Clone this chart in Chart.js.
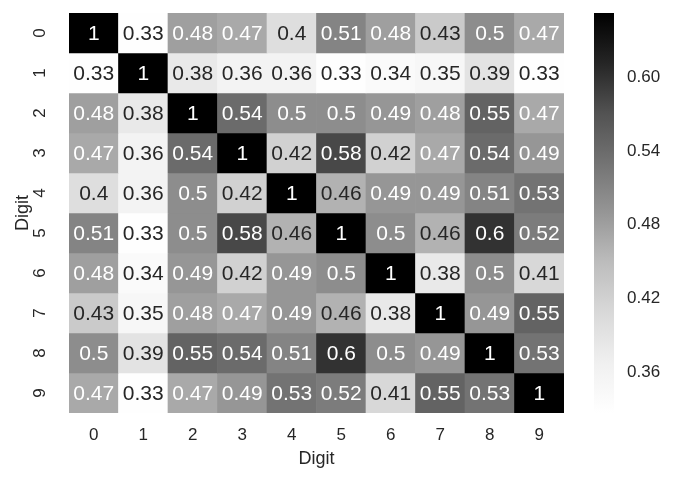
<!DOCTYPE html>
<html>
<head>
<meta charset="utf-8">
<script src="https://cdn.jsdelivr.net/npm/chart.js@4/dist/chart.umd.min.js"></script>
<style>
  body { margin: 0; background: #fff; }
  #wrap { position: relative; width: 677px; height: 483px; }
  #heat { position: absolute; left: 0; top: 0; }
  #cbar { position: absolute; left: 580px; top: 0; }
</style>
</head>
<body>
<div id="wrap">
  <canvas id="heat" width="677" height="483"></canvas>
  <canvas id="cbar" width="97" height="483"></canvas>
</div>
<script>
// Data
const digits = ["0","1","2","3","4","5","6","7","8","9"];

const row0 = [1, 0.33, 0.48, 0.47, 0.4, 0.51, 0.48, 0.43, 0.5, 0.47];
const row1 = [0.33, 1, 0.38, 0.36, 0.36, 0.33, 0.34, 0.35, 0.39, 0.33];
const row2 = [0.48, 0.38, 1, 0.54, 0.5, 0.5, 0.49, 0.48, 0.55, 0.47];
const row3 = [0.47, 0.36, 0.54, 1, 0.42, 0.58, 0.42, 0.47, 0.54, 0.49];
const row4 = [0.4, 0.36, 0.5, 0.42, 1, 0.46, 0.49, 0.49, 0.51, 0.53];
const row5 = [0.51, 0.33, 0.5, 0.58, 0.46, 1, 0.5, 0.46, 0.6, 0.52];
const row6 = [0.48, 0.34, 0.49, 0.42, 0.49, 0.5, 1, 0.38, 0.5, 0.41];
const row7 = [0.43, 0.35, 0.48, 0.47, 0.49, 0.46, 0.38, 1, 0.49, 0.55];
const row8 = [0.5, 0.39, 0.55, 0.54, 0.51, 0.6, 0.5, 0.49, 1, 0.53];
const row9 = [0.47, 0.33, 0.47, 0.49, 0.53, 0.52, 0.41, 0.55, 0.53, 1];
const rows = [row0, row1, row2, row3, row4, row5, row6, row7, row8, row9];

const cbarTicks = [0.36, 0.42, 0.48, 0.54, 0.60];
const vmin = 0.327;
const vmax = 0.652;

// "Greys" colour map stops (white -> black)
const greys = [255, 240, 217, 189, 150, 115, 82, 37, 0];

const FONT = "'Liberation Sans', Arial, sans-serif";
const INK  = "#262626";

function greyLevel(v) {
  var t = (v - vmin) / (vmax - vmin);
  t = Math.max(0, Math.min(1, t));
  var p = t * (greys.length - 1);
  var i = Math.min(Math.floor(p), greys.length - 2);
  var f = p - i;
  return greys[i] + (greys[i + 1] - greys[i]) * f;
}

function greyColor(v) {
  var g = Math.round(greyLevel(v));
  return "rgb(" + g + "," + g + "," + g + ")";
}

function textColor(v) {
  var c = greyLevel(v) / 255;
  var lin = c <= 0.03928 ? c / 12.92 : Math.pow((c + 0.055) / 1.055, 2.4);
  return lin > 0.408 ? INK : "#ffffff";
}

// one dataset per row: floating bars [row, row + 1]
const datasets = rows.map(function(r, i) {
  return {
    data: r.map(function() { return [i, i + 1]; }),
    backgroundColor: r.map(greyColor),
    borderWidth: 0,
    grouped: false,
    categoryPercentage: 1.0,
    barPercentage: 1.0
  };
});

// annotation plugin: writes each value in the middle of its cell
const annotate = {
  id: "annotate",
  afterDatasetsDraw: function(chart) {
    var ctx = chart.ctx;
    ctx.save();
    ctx.font = "21px " + FONT;
    ctx.textAlign = "center";
    ctx.textBaseline = "middle";
    rows.forEach(function(r, i) {
      var meta = chart.getDatasetMeta(i);
      meta.data.forEach(function(bar, j) {
        var cy = (bar.y + bar.base) / 2;
        ctx.fillStyle = textColor(r[j]);
        ctx.fillText(String(r[j]), bar.x, cy + 1);
      });
    });
    ctx.restore();
  }
};

new Chart(document.getElementById("heat"), {
  type: "bar",
  data: { labels: digits, datasets: datasets },
  plugins: [annotate],
  options: {
    responsive: false,
    animation: false,
    layout: { padding: { left: 0, top: 13, right: 113, bottom: 0 } },
    plugins: { legend: { display: false }, tooltip: { enabled: false } },
    scales: {
      x: {
        type: "category",
        grid: { display: false, drawTicks: false },
        border: { display: false },
        ticks: { color: INK, font: { family: FONT, size: 17 }, padding: 12, maxRotation: 0 },
        title: { display: true, text: "Digit", color: INK, font: { family: FONT, size: 18 }, padding: { top: 0, bottom: 13 } },
        afterFit: function(s) { s.height = 70; s.paddingLeft = 0; s.paddingRight = 0; }
      },
      y: {
        type: "linear",
        min: 0,
        max: 10,
        reverse: true,
        grid: { display: false, drawTicks: false },
        border: { display: false },
        afterBuildTicks: function(s) {
          s.ticks = digits.map(function(d, i) { return { value: i + 0.5 }; });
        },
        ticks: {
          color: INK,
          font: { family: FONT, size: 17 },
          padding: 24,
          minRotation: 90,
          maxRotation: 90,
          crossAlign: "center",
          callback: function(v) { return digits[Math.floor(v)]; }
        },
        title: { display: true, text: "Digit", color: INK, font: { family: FONT, size: 18 }, padding: { top: 12, bottom: 0 } },
        afterFit: function(s) { s.width = 69; s.paddingTop = 0; s.paddingBottom = 0; }
      }
    }
  }
});

// colour bar
function cbarGradient(context) {
  var chart = context.chart;
  if (!chart.chartArea) return null;
  var ys = chart.scales.y;
  var y0 = ys.getPixelForValue(vmin);
  var y1 = ys.getPixelForValue(vmax);
  var g = chart.ctx.createLinearGradient(0, y0, 0, y1);
  greys.forEach(function(lv, k) {
    g.addColorStop(k / (greys.length - 1), "rgb(" + lv + "," + lv + "," + lv + ")");
  });
  return g;
}

new Chart(document.getElementById("cbar"), {
  type: "bar",
  data: {
    labels: ["c"],
    datasets: [{
      data: [[vmin, vmax]],
      backgroundColor: cbarGradient,
      borderWidth: 0,
      categoryPercentage: 1.0,
      barPercentage: 1.0
    }]
  },
  options: {
    responsive: false,
    animation: false,
    layout: { padding: { left: 14, top: 13, right: 0, bottom: 70 } },
    plugins: { legend: { display: false }, tooltip: { enabled: false } },
    scales: {
      x: { display: false },
      y: {
        position: "right",
        min: vmin,
        max: vmax,
        grid: { display: false, drawTicks: false },
        border: { display: false },
        afterBuildTicks: function(s) {
          s.ticks = cbarTicks.map(function(v) { return { value: v }; });
        },
        ticks: {
          color: INK,
          font: { family: FONT, size: 17 },
          padding: 13,
          callback: function(v) { return v.toFixed(2); }
        },
        afterFit: function(s) { s.width = 63; s.paddingTop = 0; s.paddingBottom = 0; }
      }
    }
  }
});
</script>
</body>
</html>
